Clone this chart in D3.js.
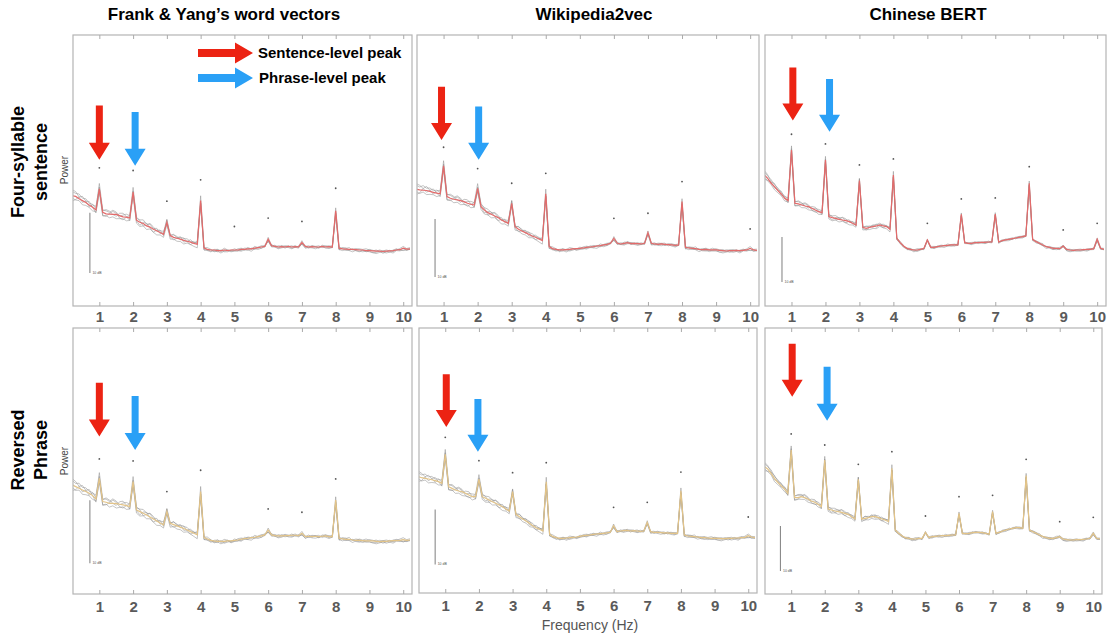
<!DOCTYPE html>
<html><head><meta charset="utf-8">
<script src="https://cdn.jsdelivr.net/npm/d3@7"></script>
<style>body{margin:0;background:#fff}svg{display:block}</style>
</head><body><svg id="c" width="1115" height="638"></svg>
<script>
// ---------- DATA ----------
// frequency grid (Hz), 0.2 .. 10.2 in 0.1 Hz steps
const freqs = d3.range(101).map(i => Math.round((0.2 + i * 0.1) * 10) / 10);
const tickLabels = [1, 2, 3, 4, 5, 6, 7, 8, 9, 10];
const columnTitles = ["Frank & Yang\u2019s word vectors", "Wikipedia2vec", "Chinese BERT"];
const rowTitles = [["Four-syllable", "sentence"], ["Reversed", "Phrase"]];
const legendLabels = ["Sentence-level peak", "Phrase-level peak"];
const yLabel = "Power";
const xLabel = "Frequency (Hz)";

// mean power spectra (dB), one value per frequency
const powerFourFY = [
 18.3,18.2,17.8,17.5,17.2,16.75,16.4,15.95,19.45,15.55,
 15.3,15.25,15.2,15.2,15.0,14.8,14.75,14.6,18.9,14.25,
 13.9,13.7,13.3,13.1,12.75,12.5,12.2,11.9,13.9,11.7,
 11.4,11.25,11.1,10.9,10.75,10.6,10.4,10.25,17.5,9.6,
 9.4,9.3,9.3,9.2,9.2,9.3,9.2,9.3,9.3,9.3,
 9.4,9.4,9.5,9.5,9.6,9.7,9.8,9.9,11.1,10.0,
 9.9,9.8,9.85,9.8,9.9,9.8,9.85,9.8,10.55,9.9,
 9.8,9.85,9.8,9.8,9.9,9.8,9.85,9.8,15.8,9.6,
 9.5,9.45,9.4,9.4,9.35,9.3,9.3,9.2,9.2,9.15,
 9.1,9.1,9.05,9.1,9.15,9.2,9.3,9.35,9.6,9.45,
 9.5];
const powerFourW2V = [
 20.1,20.0,19.95,19.9,19.74,19.57,19.46,19.34,24.14,18.85,
 18.56,18.39,18.28,18.16,17.99,17.7,17.53,17.41,20.29,17.13,
 16.55,16.09,15.8,15.52,15.23,14.83,14.54,14.25,17.7,13.68,
 13.22,12.93,12.64,12.36,12.07,11.84,11.55,11.26,19.34,10.23,
 9.89,9.77,9.66,9.66,9.71,9.77,9.83,9.89,9.94,10.0,
 10.11,10.17,10.23,10.34,10.4,10.52,10.63,10.8,11.67,10.8,
 10.69,10.8,10.92,10.75,10.8,10.75,10.69,10.8,12.64,10.8,
 10.69,10.63,10.69,10.63,10.57,10.52,10.46,10.52,17.99,10.11,
 10.0,9.94,9.89,9.77,9.71,9.77,9.66,9.66,9.66,9.6,
 9.54,9.48,9.54,9.54,9.6,9.54,9.6,9.66,9.94,9.66,
 9.6];
const powerFourBERT = [
 29.11,28.37,27.26,26.52,25.63,24.89,23.93,23.41,34.67,22.81,
 22.67,22.44,22.22,22.07,21.70,21.33,20.96,20.74,32.44,19.85,
 19.63,19.48,19.26,19.11,18.96,18.74,18.37,18.0,27.85,17.48,
 17.26,17.48,17.63,17.78,18.0,17.78,17.63,17.04,29.11,15.04,
 14.07,13.33,12.81,12.59,12.44,12.44,12.59,12.81,14.67,13.04,
 13.04,13.18,13.33,13.41,13.48,13.56,13.56,13.56,20.37,14.07,
 13.93,13.93,14.07,14.07,14.15,14.15,14.22,14.22,20.44,14.22,
 14.52,14.67,14.81,14.96,15.11,15.26,15.41,15.56,27.26,14.81,
 14.3,13.93,13.56,13.18,13.04,12.81,12.81,12.74,13.33,12.59,
 12.44,12.37,12.44,12.44,12.52,12.59,12.59,12.74,14.81,12.81,
 12.59];
const powerRevFY = [
 17.31,17.04,16.78,16.51,16.25,15.98,15.61,15.08,18.36,14.66,
 14.55,14.39,14.39,14.34,14.24,14.13,14.03,13.87,17.83,13.34,
 13.07,12.81,12.54,12.23,11.91,11.59,11.27,10.96,13.07,11.2,
 11.0,10.8,10.6,10.4,10.16,9.9,9.63,9.37,16.25,8.94,
 8.73,8.52,8.42,8.36,8.36,8.36,8.42,8.42,8.52,8.57,
 8.68,8.79,8.84,8.94,9.0,9.11,9.21,9.37,10.16,9.37,
 9.26,9.21,9.21,9.26,9.26,9.32,9.32,9.26,9.63,9.11,
 9.16,9.11,9.16,9.11,9.16,9.21,9.11,9.11,14.92,8.84,
 8.73,8.68,8.68,8.57,8.52,8.52,8.47,8.42,8.42,8.42,
 8.36,8.31,8.36,8.36,8.42,8.47,8.47,8.52,8.63,8.52,
 8.57];
const powerRevW2V = [
 21.16,20.97,20.85,20.73,20.6,20.43,20.25,19.94,25.22,19.34,
 19.03,18.73,18.55,18.43,18.13,17.82,17.52,17.52,20.73,17.52,
 17.22,16.91,16.61,16.31,16.0,15.7,15.28,14.91,18.43,14.31,
 13.88,13.46,13.1,12.67,12.25,11.88,11.58,11.28,20.25,10.67,
 10.25,10.06,9.94,9.94,10.0,10.06,10.13,10.19,10.31,10.43,
 10.49,10.55,10.67,10.73,10.79,10.85,10.92,11.04,12.25,11.16,
 11.28,11.34,11.4,11.28,11.34,11.28,11.22,11.28,12.85,11.16,
 11.04,11.04,10.98,10.92,10.92,10.85,10.85,10.85,18.61,10.55,
 10.37,10.31,10.25,10.19,10.06,10.06,10.0,9.94,9.94,9.94,
 9.88,9.88,9.94,9.94,10.0,10.0,10.06,10.13,10.43,10.19,
 10.06];
const powerRevBERT = [
 28.3,27.78,26.81,25.7,24.81,24.07,23.33,22.37,32.0,21.41,
 21.41,21.63,21.41,21.11,20.67,20.37,19.93,19.41,29.78,18.89,
 18.67,18.44,18.3,18.15,17.93,17.7,17.19,16.67,25.48,16.67,
 16.81,16.96,17.19,17.19,16.96,16.67,16.44,16.07,27.93,14.22,
 13.48,12.96,12.52,12.37,12.22,12.22,12.37,12.37,13.7,12.52,
 12.74,12.81,12.89,12.96,12.96,13.04,13.11,13.11,17.93,13.48,
 13.41,13.48,13.63,13.7,13.7,13.63,13.48,13.26,18.3,13.48,
 13.7,14.0,14.22,14.44,14.59,14.74,14.74,14.59,26.3,14.22,
 13.85,13.48,13.11,12.74,12.52,12.37,12.37,12.52,12.74,12.22,
 12.07,12.0,12.0,12.07,12.07,12.15,12.22,12.37,13.48,12.37,
 12.22];

// individual-trace deviations from the mean (dB), read as the spread of the grey traces
const traceDevA = [
 0.7,0.5,0.8,0.4,0.6,0.3,0.5,0.2,0.9,0.4, 0.5,0.3,0.7,0.4,-0.1,0.3,0.5,0.4,0.8,0.3,
 0.4,0.6,0.3,0.5,0.1,0.4,-0.2,0.3,0.5,0.1, 0.4,0.3,-0.1,0.3,0.4,0.1,0.3,0.0,0.8,0.2,
 -0.2,-0.3,-0.1,-0.2,0.1,-0.3,-0.2,0.0,-0.1,-0.2, 0.1,-0.1,0.2,0.0,-0.2,0.1,0.2,-0.1,0.3,0.1,
 -0.1,0.2,0.1,-0.2,0.0,0.2,-0.1,0.1,0.3,0.0, 0.2,-0.1,0.1,0.2,-0.2,0.0,0.1,-0.1,0.5,0.2,
 0.0,-0.2,-0.1,0.1,-0.2,-0.3,0.0,-0.2,-0.1,-0.3, -0.2,0.0,-0.3,-0.1,0.1,-0.2,0.0,0.2,0.3,0.1, 0.2];
const traceDevB = [
 -0.4,-0.6,-0.3,-0.7,-0.5,-0.4,-0.6,-0.3,-0.7,-0.5, -0.3,-0.6,-0.4,-0.7,-0.5,-0.3,-0.6,-0.4,-0.6,-0.5,
 -0.7,-0.4,-0.6,-0.3,-0.5,-0.7,-0.4,-0.5,-0.4,-0.6, -0.3,-0.5,-0.4,-0.6,-0.3,-0.4,-0.5,-0.6,-0.4,-0.3,
 -0.2,0.1,-0.3,-0.1,-0.4,-0.2,0.0,-0.3,-0.2,-0.1, -0.3,-0.1,-0.2,-0.4,-0.1,-0.3,-0.2,-0.1,-0.3,-0.2,
 -0.1,-0.3,-0.2,0.0,-0.2,-0.3,-0.1,-0.2,-0.2,-0.3, -0.1,-0.2,-0.3,-0.1,0.0,-0.2,-0.3,-0.1,-0.4,-0.2,
 -0.3,-0.1,-0.2,-0.4,-0.1,-0.2,-0.3,-0.1,-0.2,-0.3, -0.4,-0.2,-0.1,-0.3,-0.2,-0.4,-0.1,-0.2,-0.3,-0.2, -0.1];
const traceDevC = [
 1.0,0.8,0.3,-0.3,0.2,0.6,0.0,-0.5,-0.2,0.3, 0.7,0.5,0.0,-0.3,0.4,0.6,0.1,-0.4,0.2,0.5,
 0.3,-0.4,0.1,0.6,0.4,-0.1,0.3,0.5,-0.3,0.0, 0.5,0.1,0.4,-0.3,0.0,0.4,0.1,0.5,-0.4,0.1,
 0.3,0.1,-0.2,0.2,0.0,0.3,0.1,-0.1,0.2,0.0, -0.2,0.2,0.1,-0.1,0.3,0.0,-0.2,0.1,-0.3,0.2,
 0.0,-0.2,0.2,0.1,-0.1,0.0,0.2,-0.1,-0.2,0.1, -0.2,0.1,0.0,-0.1,0.2,0.1,-0.2,0.0,-0.3,-0.1,
 0.2,0.1,0.3,-0.1,0.0,0.2,0.1,0.3,0.1,0.0, 0.2,-0.1,0.1,0.0,-0.2,0.1,0.2,-0.1,0.0,-0.2, 0.0];
const traceDevD = [
 -0.9,-0.5,0.3,0.7,0.2,-0.3,0.4,0.6,0.3,-0.6, -0.4,0.1,0.5,0.2,-0.4,-0.5,0.0,0.4,-0.5,-0.1,
 -0.5,0.2,0.4,-0.1,-0.5,0.1,0.4,-0.2,0.4,-0.2, -0.4,0.0,0.3,0.4,-0.1,-0.4,0.1,0.3,-0.6,-0.3,
 0.0,-0.2,0.1,0.2,-0.2,0.0,0.1,-0.2,-0.1,0.2, 0.2,0.0,-0.2,0.1,0.0,-0.1,0.1,0.2,-0.4,-0.1,
 0.2,0.0,-0.1,0.2,0.1,-0.2,0.0,0.1,-0.3,-0.2, 0.0,0.2,0.1,-0.2,0.0,0.2,0.1,0.2,-0.6,-0.3,
 0.1,0.2,-0.1,0.0,0.2,0.1,-0.1,0.0,0.2,0.1, 0.0,0.2,0.1,0.2,0.0,-0.1,0.1,0.0,-0.4,0.0, -0.1];

// significance markers above peaks: frequencies and heights (dB)
const sigFreqFourFY = [1,2,3,4,5,6,7,8];
const sigPowFourFY  = [22.95,22.5,17.4,20.95,13.2,14.6,14.05,19.55];
const sigFreqFourW2V = [1,2,3,4,6,7,8,10];
const sigPowFourW2V  = [27.36,23.68,21.15,22.87,15.11,15.98,21.44,13.28];
const sigFreqFourBERT = [1,2,3,4,5,6,7,8,9,10];
const sigPowFourBERT  = [38.15,36.0,31.33,32.67,18.37,23.78,24.0,30.96,16.89,18.37];
const sigFreqRevFY = [1,2,3,4,6,7,8];
const sigPowRevFY  = [21.43,21.11,16.25,19.63,13.5,12.97,18.26];
const sigFreqRevW2V = [1,2,3,4,6,7,8,10];
const sigPowRevW2V  = [28.31,24.06,21.88,23.7,15.58,16.49,22.0,13.82];
const sigFreqRevBERT = [1,2,3,4,5,6,7,8,9,10];
const sigPowRevBERT  = [35.56,33.11,28.81,31.63,17.33,21.63,21.93,29.93,16.07,17.04];

// y extent of each panel (dB) and 10-dB scale bar anchor [freq, dB]
const panelSpanDb = [45, 46.7, 60.2, 42.2, 48.2, 59.1];
const scaleBarAnchor = [[0.72,5.5],[0.75,5.0],[0.72,5.33],[0.72,4.87],[0.70,5.2],[0.68,5.11]];
const scaleBarDb = 10;
// annotation arrows: [freq, top dB, tip dB] for sentence (red) and phrase (blue) peaks
const sentenceArrows = [[1.0,33.3,24.3],[0.94,37.8,28.6],[1.04,52.96,41.2],[1.0,33.5,24.97],[1.03,39.8,30.2],[1.03,55.6,43.8]];
const phraseArrows   = [[2.06,32.2,23.3],[2.03,34.4,25.2],[2.12,50.4,38.7],[2.06,31.4,22.86],[1.97,35.3,25.7],[2.07,50.5,38.5]];

// ---------- LAYOUT ----------
const panelRects = [
  [73,35,412,306],[417,35,759,306],[765,35,1106,306],
  [73,328,412,594],[419,328,757,593],[765,328,1102,594]];
const xDomain = [0.22, 10.26];
const RED = "#ec2313", BLUE = "#2aa0f6";
const meanColor = ["#e46a6a", "#e3c488"];

const means = [powerFourFY, powerFourW2V, powerFourBERT, powerRevFY, powerRevW2V, powerRevBERT];
const sigF = [sigFreqFourFY, sigFreqFourW2V, sigFreqFourBERT, sigFreqRevFY, sigFreqRevW2V, sigFreqRevBERT];
const sigP = [sigPowFourFY, sigPowFourW2V, sigPowFourBERT, sigPowRevFY, sigPowRevW2V, sigPowRevBERT];
const devs = [traceDevA, traceDevB, traceDevC, traceDevD];

const svg = d3.select("#c");
const FONT = "'Liberation Sans', Arial, Helvetica, sans-serif";
const defs = svg.append("defs");

function downArrow(g, x, yTop, yTip, color) {
  const sw = 3.5, hw = 10.5, hl = 17;
  const p = d3.path();
  p.moveTo(x - sw, yTop); p.lineTo(x + sw, yTop); p.lineTo(x + sw, yTip - hl);
  p.lineTo(x + hw, yTip - hl); p.lineTo(x, yTip); p.lineTo(x - hw, yTip - hl);
  p.lineTo(x - sw, yTip - hl); p.closePath();
  g.append("path").attr("d", p.toString()).attr("fill", color);
}
function rightArrow(g, x0, x1, yc, color) {
  const sw = 4, hw = 10.5, hl = 18;
  const p = d3.path();
  p.moveTo(x0, yc - sw); p.lineTo(x1 - hl, yc - sw); p.lineTo(x1 - hl, yc - hw);
  p.lineTo(x1, yc); p.lineTo(x1 - hl, yc + hw); p.lineTo(x1 - hl, yc + sw);
  p.lineTo(x0, yc + sw); p.closePath();
  g.append("path").attr("d", p.toString()).attr("fill", color);
}

panelRects.forEach((r, i) => {
  const [L, T, R, B] = r;
  const row = Math.floor(i / 3), col = i % 3;
  const x = d3.scaleLinear().domain(xDomain).range([L, R]);
  const y = d3.scaleLinear().domain([0, panelSpanDb[i]]).range([B, T]);
  const g = svg.append("g");
  defs.append("clipPath").attr("id", "clip" + i)
    .append("rect").attr("x", L).attr("y", T).attr("width", R - L).attr("height", B - T);
  const plot = g.append("g").attr("clip-path", `url(#clip${i})`);
  const mean = means[i];
  const line = d3.line().x(d => x(d[0])).y(d => y(d[1]));

  devs.forEach(dev => {
    plot.append("path")
      .attr("d", line(freqs.map((f, k) => [f, mean[k] + dev[k]])))
      .attr("fill", "none").attr("stroke", "#8e8e8e").attr("stroke-opacity", 0.7)
      .attr("stroke-width", 0.75);
  });
  plot.append("path")
    .attr("d", line(freqs.map((f, k) => [f, mean[k]])))
    .attr("fill", "none").attr("stroke", meanColor[row]).attr("stroke-width", 1.2);

  // significance dots
  plot.selectAll("circle.sig").data(sigF[i].map((f, k) => [f, sigP[i][k]]))
    .enter().append("circle").attr("cx", d => x(d[0])).attr("cy", d => y(d[1]))
    .attr("r", 0.9).attr("fill", "#555");

  // scale bar
  const [bf, bdb] = scaleBarAnchor[i];
  g.append("line").attr("x1", x(bf)).attr("x2", x(bf))
    .attr("y1", y(bdb)).attr("y2", y(bdb + scaleBarDb))
    .attr("stroke", "#8a8a8a").attr("stroke-width", 1.1);
  g.append("text").attr("x", x(bf) + 2.5).attr("y", y(bdb) + 1)
    .attr("font-size", 3.5).attr("fill", "#555").attr("font-family", FONT).text("10 dB");

  // frame
  g.append("rect").attr("x", L).attr("y", T).attr("width", R - L).attr("height", B - T)
    .attr("fill", "none").attr("stroke", "#b4b4b4").attr("stroke-width", 1.2);

  // axes
  const ax = g.append("g").attr("transform", `translate(0,${B})`)
    .call(d3.axisBottom(x).tickValues(tickLabels).tickSize(-4).tickPadding(row === 0 ? 5 : 7));
  ax.select(".domain").remove();
  ax.selectAll(".tick line").attr("stroke", "#aaa");
  ax.selectAll(".tick text").attr("font-family", FONT).attr("font-size", 15)
    .attr("font-weight", "bold").attr("fill", "#5a5a5a");
  const axTop = g.append("g").attr("transform", `translate(0,${T})`)
    .call(d3.axisTop(x).tickValues(tickLabels).tickSize(-4).tickFormat(""));
  axTop.select(".domain").remove();
  axTop.selectAll(".tick line").attr("stroke", "#aaa");

  // arrows
  const sa = sentenceArrows[i], pa = phraseArrows[i];
  downArrow(g, x(sa[0]), y(sa[1]), y(sa[2]), RED);
  downArrow(g, x(pa[0]), y(pa[1]), y(pa[2]), BLUE);

  if (col === 0) {
    const yc = row === 0 ? 170 : 461;
    g.append("text").attr("transform", `translate(64,${yc}) rotate(-90)`)
      .attr("text-anchor", "middle").attr("dy", "0.35em")
      .attr("font-family", FONT).attr("font-size", 10).attr("fill", "#444").text(yLabel);
  }
});

// column titles
const titleX = [224, 594, 928];
columnTitles.forEach((t, i) => {
  svg.append("text").attr("x", titleX[i]).attr("y", 20).attr("text-anchor", "middle")
    .attr("font-family", FONT).attr("font-weight", "bold").attr("font-size", 17)
    .attr("fill", "#000").text(t);
});
// row titles
const rowCenterY = [162, 450];
rowTitles.forEach((lines, r) => {
  lines.forEach((t, k) => {
    svg.append("text")
      .attr("transform", `translate(${k === 0 ? 18 : 41},${rowCenterY[r]}) rotate(-90)`)
      .attr("text-anchor", "middle").attr("dy", "0.35em")
      .attr("font-family", FONT).attr("font-weight", "bold").attr("font-size", 18)
      .attr("fill", "#000").text(t);
  });
});
// x label
svg.append("text").attr("x", 590).attr("y", 630).attr("text-anchor", "middle")
  .attr("font-family", FONT).attr("font-size", 14).attr("fill", "#555").text(xLabel);

// legend
const lg = svg.append("g");
[[RED, 53], [BLUE, 78]].forEach((d, k) => {
  rightArrow(lg, 198, 253, d[1], d[0]);
  lg.append("text").attr("x", 258 + k).attr("y", d[1]).attr("dy", "0.35em")
    .attr("font-family", FONT).attr("font-weight", "bold").attr("font-size", 15)
    .attr("fill", "#000").text(legendLabels[k]);
});
</script></body></html>
